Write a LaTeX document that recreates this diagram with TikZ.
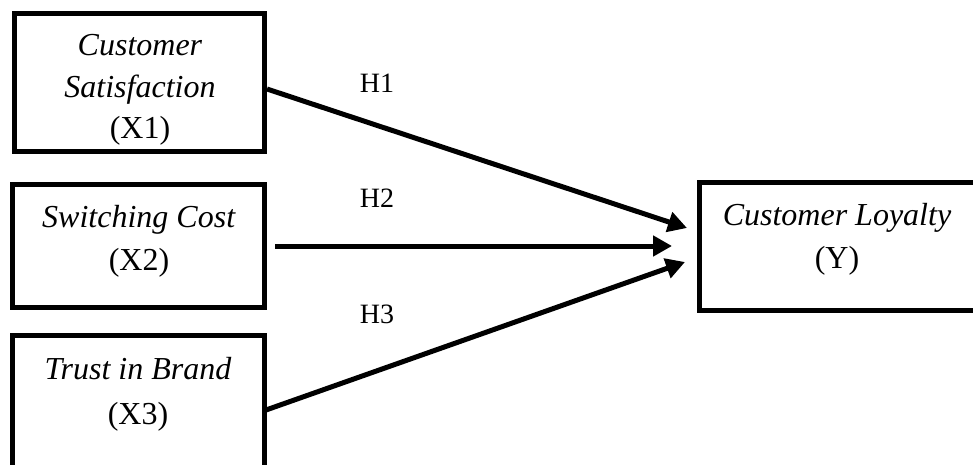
\documentclass[tikz,border=0pt]{standalone}
\usepackage{fontspec}
\setmainfont{Liberation Serif}
\usetikzlibrary{arrows.meta}
\begin{document}
\begin{tikzpicture}[x=1pt,y=-1pt,
 box/.style={draw=black,line width=5pt,rectangle,inner sep=0pt,outer sep=0pt},
 txt/.style={anchor=base,inner sep=0pt,font=\fontsize{32}{38}\selectfont},
 lab/.style={anchor=base,inner sep=0pt,font=\fontsize{28}{34}\selectfont},
 arr/.style={line width=5pt,-{Triangle[length=19pt,width=20pt]}}]
\useasboundingbox[fill=white] (0,0) rectangle (973,465);
% boxes
\node[box,minimum width=250pt,minimum height=138.5pt] (x1) at (139.5,82.75) {};
\node[box,minimum width=252pt,minimum height=123pt] (x2) at (138.5,246) {};
\node[box,minimum width=252pt,minimum height=131.5pt] (x3) at (138.5,401.25) {};
\node[box,minimum width=280.5pt,minimum height=128pt] (y) at (839.75,246.5) {};
% box texts
\node[txt] (t1a) at (140,56) {\textit{Customer}};
\node[txt] (t1b) at (140,98) {\textit{Satisfaction}};
\node[txt] (t1c) at (140,139) {(X1)};
\node[txt] (t2a) at (139,227) {\textit{Switching Cost}};
\node[txt] (t2b) at (139,270) {(X2)};
\node[txt] (t3a) at (138,379) {\textit{Trust in Brand}};
\node[txt] (t3b) at (138,424) {(X3)};
\node[txt] (tya) at (837,225) {\textit{Customer Loyalty}};
\node[txt] (tyb) at (837,268) {(Y)};
% hypothesis labels
\node[lab] (h1) at (377,93) {H1};
\node[lab] (h2) at (377,207) {H2};
\node[lab] (h3) at (377,323) {H3};
% arrow ends
\coordinate (s1) at (267,89);
\coordinate (e1) at (687,228);
\coordinate (s2) at (275,246);
\coordinate (e2) at (672,246);
\coordinate (s3) at (266,410);
\coordinate (e3) at (685,262);
\draw[arr] (s1) -- (e1);
\draw[arr] (s2) -- (e2);
\draw[arr] (s3) -- (e3);
\end{tikzpicture}
\end{document}
